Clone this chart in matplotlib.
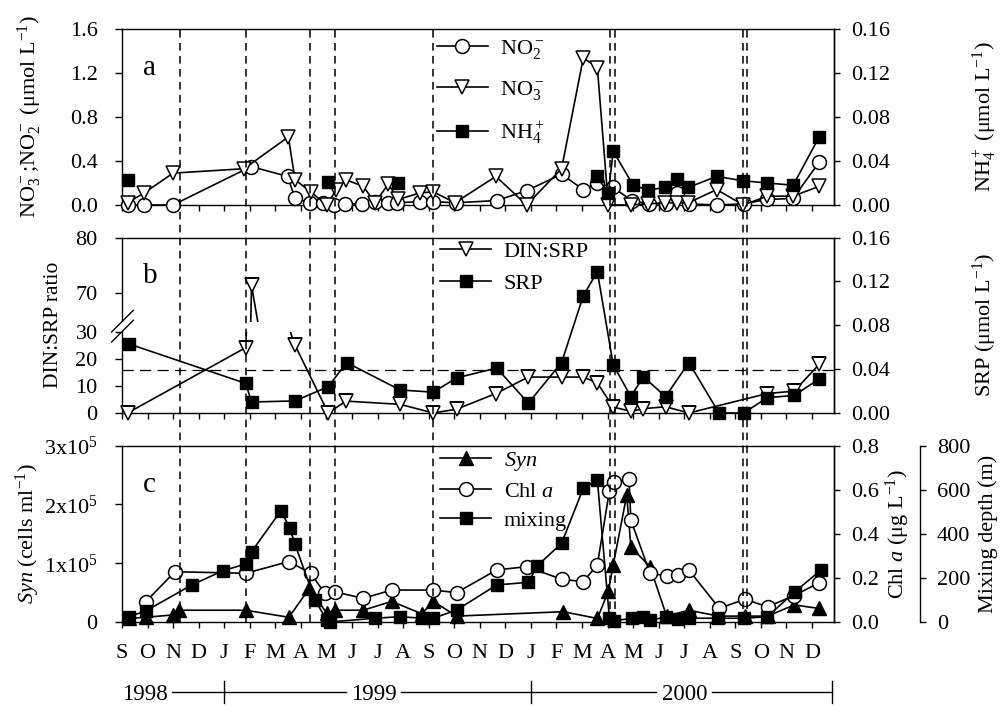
import numpy as np
import matplotlib
matplotlib.use("Agg")
import matplotlib.pyplot as plt
from matplotlib.lines import Line2D
from matplotlib.path import Path
import matplotlib.transforms as mtransforms

plt.rcParams.update({
    "font.family": "serif",
    "font.serif": ["Liberation Serif", "DejaVu Serif"],
    "mathtext.fontset": "custom",
    "mathtext.rm": "Liberation Serif",
    "mathtext.it": "Liberation Serif:italic",
    "mathtext.bf": "Liberation Serif:bold",
    "font.size": 16,
    "axes.linewidth": 1.0,
    "xtick.direction": "out",
    "ytick.direction": "out",
})

# ---------------- data (x = months since 1 Sep 1998) ----------------
month_labels = list("SONDJFMAMJJASONDJFMAMJJASOND")
years = ["1998", "1999", "2000"]
event_months = [2.27, 4.84, 7.36, 8.33, 12.18, 19.09, 19.28, 24.28, 24.44]

# panel a
no2_x = [0.22, 0.87, 2.00, 5.05, 6.48, 6.77, 7.35, 7.85, 8.31, 8.72, 9.41, 9.90, 10.42, 10.75, 11.68, 12.18,
         13.05, 14.66, 15.83, 17.20, 18.05, 18.57, 19.22, 19.94, 20.62, 21.27, 21.70, 22.17, 23.30, 24.33,
         25.22, 26.26, 27.28]
no2_y = [0.00, 0.00, 0.00, 0.35, 0.26, 0.06, 0.02, 0.02, 0.00, 0.01, 0.01, 0.03, 0.02, 0.02, 0.03, 0.03,
         0.02, 0.04, 0.13, 0.28, 0.14, 0.20, 0.16, 0.04, 0.01, 0.01, 0.11, 0.01, 0.00, 0.01,
         0.05, 0.06, 0.39]
no3_x = [0.22, 0.87, 2.00, 4.78, 6.51, 6.77, 7.38, 8.01, 8.39, 8.75, 9.44, 9.90, 10.42, 10.81, 11.66, 12.18,
         13.03, 14.63, 15.83, 17.20, 18.05, 18.60, 19.03, 19.91, 20.59, 21.24, 21.70, 22.16, 23.27, 24.31,
         25.25, 26.26, 27.28]
no3_y = [0.02, 0.11, 0.29, 0.33, 0.62, 0.23, 0.12, 0.00, 0.14, 0.23, 0.17, 0.02, 0.19, 0.05, 0.11, 0.12,
         0.02, 0.26, 0.00, 0.33, 1.34, 1.25, 0.00, 0.00, 0.01, 0.02, 0.02, 0.02, 0.14, 0.00,
         0.08, 0.08, 0.17]
nh4_iso_x = [0.25, 8.07, 10.81]
nh4_iso_y = [0.023, 0.021, 0.020]
nh4_x = [18.57, 19.03, 19.22, 20.00, 20.60, 21.24, 21.70, 22.16, 23.27, 24.31, 25.25, 26.26, 27.28]
nh4_y = [0.026, 0.011, 0.049, 0.018, 0.0135, 0.016, 0.024, 0.016, 0.026, 0.022, 0.020, 0.018, 0.062]

# panel b
srp_x = [0.27, 4.84, 5.07, 6.77, 8.07, 8.79, 10.88, 12.18, 13.09, 14.66, 15.90, 17.20, 18.05, 18.60,
         19.22, 19.91, 20.40, 21.27, 22.18, 23.36, 24.33, 25.25, 26.30, 27.28]
srp_y = [0.063, 0.027, 0.010, 0.011, 0.024, 0.046, 0.021, 0.019, 0.032, 0.041, 0.009, 0.046, 0.107, 0.129,
         0.044, 0.015, 0.033, 0.015, 0.046, 0.000, 0.000, 0.014, 0.016, 0.031]
din_x = [0.22, 4.84, 5.07, 6.77, 8.07, 8.76, 10.88, 12.18, 13.09, 14.63, 15.90, 17.20, 18.05, 18.60,
         19.22, 19.91, 20.40, 21.27, 22.18, 25.25, 26.30, 27.28]
din_y = [0.0, 24.2, 71.3, 25.1, 0.0, 4.4, 3.2, 0.0, 1.4, 7.2, 13.3, 13.3, 13.3, 11.1,
         2.2, 0.6, 1.6, 2.3, 0.0, 7.2, 8.1, 18.0]
redfield = 16

# panel c
syn_x = [0.27, 0.93, 2.00, 2.23, 4.84, 6.53, 7.33, 8.01, 8.33, 9.44, 10.55, 11.73, 12.18, 13.09,
         17.27, 18.60, 19.03, 19.22, 19.75, 19.91, 20.66, 21.31, 22.18, 23.33, 24.37, 25.26, 26.30, 27.28]
syn_y = [0.6e4, 0.8e4, 1.2e4, 2.0e4, 2.0e4, 0.8e4, 5.7e4, 1.5e4, 2.0e4, 2.0e4, 3.5e4, 1.4e4, 3.5e4, 1.0e4,
         1.75e4, 0.6e4, 5.2e4, 9.7e4, 2.16e5, 1.28e5, 9.4e4, 1.0e4, 2.0e4, 1.0e4, 1.0e4, 1.0e4, 2.9e4, 2.3e4]
chl_x = [0.93, 2.07, 4.84, 6.53, 7.38, 7.94, 8.33, 9.44, 10.55, 12.18, 13.09, 14.66, 15.83, 17.20, 18.05,
         18.60, 19.07, 19.26, 19.84, 19.91, 20.66, 21.31, 21.74, 22.18, 23.37, 24.37, 25.26, 26.30, 27.28]
chl_y = [0.092, 0.228, 0.221, 0.274, 0.221, 0.130, 0.137, 0.107, 0.145, 0.145, 0.133, 0.236, 0.251, 0.194,
         0.183, 0.259, 0.594, 0.637, 0.647, 0.463, 0.221, 0.209, 0.213, 0.236, 0.062, 0.103, 0.069, 0.120,
         0.178]
mix_x = [0.27, 0.93, 2.73, 3.96, 4.84, 5.07, 6.22, 6.57, 6.77, 7.55, 8.01, 8.14, 9.90, 10.88, 11.73, 12.18,
         13.09, 14.66, 15.90, 16.25, 17.20, 18.05, 18.60, 19.07, 19.26, 19.94, 20.40, 20.66, 21.27, 21.74,
         22.18, 23.33, 24.33, 25.25, 26.33, 27.35]
mix_y = [24, 50, 168, 233, 263, 319, 505, 425, 352, 100, 9, 0, 17, 24, 17, 17,
         54, 168, 180, 255, 357, 607, 644, 20, 5, 17, 21, 9, 21, 12,
         17, 17, 17, 24, 137, 236]

# ---------------- styles ----------------
LW = 1.2
MS = 10
MSQ = 8.5
sty_circ = dict(color="k", marker="o", mfc="white", mec="k", ms=MS, lw=LW, mew=1.1, clip_on=False)
sty_tri = dict(color="k", marker="v", mfc="white", mec="k", ms=MS, lw=LW, mew=1.1, clip_on=False)
sty_sq = dict(color="k", marker="s", mfc="k", mec="k", ms=MSQ, lw=LW, mew=1.0, clip_on=False)
sty_up = dict(color="k", marker="^", mfc="k", mec="k", ms=MS, lw=LW, mew=1.0, clip_on=False)

XMAX = 27.86
FS_TICK = 16
FS_LAB = 16

fig = plt.figure(figsize=(10.04, 7.08), dpi=100)
L, W = 0.1215, 0.7092
rect_a = [L, 0.7105, W, 0.2482]
rect_b = [L, 0.4167, W, 0.2477]
rect_c = [L, 0.1215, W, 0.2490]
ax_a = fig.add_axes(rect_a)
ax_b = fig.add_axes(rect_b)
ax_c = fig.add_axes(rect_c)


def base_x(ax, labels=False):
    ax.set_xlim(0, XMAX)
    ax.set_xticks(np.arange(len(month_labels)))
    if labels:
        ax.set_xticklabels(month_labels, fontsize=16)
    else:
        ax.set_xticklabels([])
    ax.tick_params(axis="x", length=4, width=1, pad=12, top=False)
    ax.tick_params(axis="y", length=5, width=1, pad=12.5, labelsize=FS_TICK)


def right_ticks(ax):
    ax.tick_params(axis="y", length=4, width=1, pad=8, labelsize=FS_TICK)
    for s in ["top", "left", "bottom"]:
        ax.spines[s].set_visible(False)


def legend(ax, handles, labels, x, y, spacing):
    return ax.legend(handles, labels, loc="upper left", bbox_to_anchor=(x, y), frameon=False,
                     handlelength=2.3, handletextpad=0.55, labelspacing=spacing, borderpad=0,
                     borderaxespad=0, fontsize=16)


# ---------------- panel a ----------------
base_x(ax_a)
ax_a.plot(no2_x, no2_y, **sty_circ, zorder=3)
ax_a.plot(no3_x, no3_y, **sty_tri, zorder=3)
ax_a.set_ylim(0, 1.6)
ax_a.set_yticks([0, 0.4, 0.8, 1.2, 1.6])
ax_a.set_yticklabels(["0.0", "0.4", "0.8", "1.2", "1.6"])
ax_a.set_ylabel(r"NO$_3^-$;NO$_2^-$ ($\mathrm{\mu}$mol L$^{-1}$)", fontsize=FS_LAB)
ax_a.yaxis.set_label_coords(-0.11, 0.5)
ax_a2 = ax_a.twinx()
ax_a2.plot(nh4_x, nh4_y, **sty_sq, zorder=4)
ax_a2.plot(nh4_iso_x, nh4_iso_y, ls="none", **{k: v for k, v in sty_sq.items() if k != "lw"})
ax_a2.set_ylim(0, 0.16)
ax_a2.set_yticks([0, 0.04, 0.08, 0.12, 0.16])
ax_a2.set_yticklabels(["0.00", "0.04", "0.08", "0.12", "0.16"])
right_ticks(ax_a2)
ax_a2.set_ylabel(r"NH$_4^+$ ($\mathrm{\mu}$mol L$^{-1}$)", fontsize=FS_LAB)
ax_a2.yaxis.set_label_coords(1.192, 0.5)
ax_a.text(0.03, 0.74, "a", transform=ax_a.transAxes, fontsize=21)
h_a = [Line2D([], [], **sty_circ), Line2D([], [], **sty_tri), Line2D([], [], **sty_sq)]
legend(ax_a2, h_a, [r"NO$_2^-$", r"NO$_3^-$", r"NH$_4^+$"], 0.442, 0.95, 0.8)

# ---------------- panel b (broken DIN:SRP axis) ----------------
H_B = 175.4              # panel height in px
LOW_PX_PER_UNIT = 2.7     # 0..30 part
UP_PX_PER_UNIT = 5.5      # 70..80 part
UP_BASE_PX = 120.4        # px position of 70
GAP_LO, GAP_HI = 81.3 / H_B, 91.3 / H_B

base_x(ax_b)
ax_b.set_ylim(0, H_B / LOW_PX_PER_UNIT)
ax_b.set_yticks([0, 10, 20, 30])
ax_b.set_ylabel("DIN:SRP ratio", fontsize=15.5)
ax_b.yaxis.set_label_coords(-0.083, 0.5)

ax_bu = fig.add_axes(rect_b)
ax_bu.set_xlim(0, XMAX)
ax_bu.set_ylim(70 - UP_BASE_PX / UP_PX_PER_UNIT, 80)
ax_bu.set_yticks([70, 80])
ax_bu.patch.set_visible(False)
for s in ax_bu.spines.values():
    s.set_visible(False)
ax_bu.tick_params(axis="x", bottom=False, labelbottom=False)
ax_bu.tick_params(axis="y", length=5, width=1, pad=12.5, labelsize=FS_TICK)


def region(y0, y1):
    v = [(-0.1, y0), (1.1, y0), (1.1, y1), (-0.1, y1), (0, 0)]
    c = [Path.MOVETO, Path.LINETO, Path.LINETO, Path.LINETO, Path.CLOSEPOLY]
    return Path(v, c)


din_lo, = ax_b.plot(din_x, din_y, **{k: v for k, v in sty_tri.items() if k != "clip_on"}, zorder=3)
din_lo.set_clip_path(region(-0.3, GAP_LO), ax_b.transAxes)
din_lo.set_clip_box(None)
din_up, = ax_bu.plot(din_x, din_y, **{k: v for k, v in sty_tri.items() if k != "clip_on"}, zorder=3)
din_up.set_clip_path(region(GAP_HI, 1.3), ax_bu.transAxes)
din_up.set_clip_box(None)

ax_b.axhline(redfield, color="k", lw=0.9, ls=(0, (9, 5)), zorder=2)
# axis break marks
ax_b.plot([0, 0], [GAP_LO + 0.003, GAP_HI - 0.003], transform=ax_b.transAxes, color="white", lw=3,
          solid_capstyle="butt", clip_on=False, zorder=10)
for y0, y1 in [(0.462, 0.5855), (0.405, 0.5285)]:
    ax_b.plot([-0.0145, 0.0159], [y0, y1], transform=ax_b.transAxes, color="k", lw=1.0,
              clip_on=False, zorder=11)

ax_b2 = ax_b.twinx()
ax_b2.plot(srp_x, srp_y, **sty_sq, zorder=4)
ax_b2.set_ylim(0, 0.16)
ax_b2.set_yticks([0, 0.04, 0.08, 0.12, 0.16])
ax_b2.set_yticklabels(["0.00", "0.04", "0.08", "0.12", "0.16"])
right_ticks(ax_b2)
ax_b2.set_ylabel(r"SRP ($\mathrm{\mu}$mol L$^{-1}$)", fontsize=FS_LAB)
ax_b2.yaxis.set_label_coords(1.192, 0.5)
ax_b.text(0.03, 0.74, "b", transform=ax_b.transAxes, fontsize=21)
h_b = [Line2D([], [], **sty_tri), Line2D([], [], **sty_sq)]
legend(ax_b2, h_b, ["DIN:SRP", "SRP"], 0.447, 0.978, 0.5)

# ---------------- panel c ----------------
base_x(ax_c, labels=True)
ax_c.plot(syn_x, syn_y, **sty_up, zorder=3)
ax_c.set_ylim(0, 3e5)
ax_c.set_yticks([0, 1e5, 2e5, 3e5])
ax_c.set_yticklabels(["0", r"1x10$^5$", r"2x10$^5$", r"3x10$^5$"])
ax_c.set_ylabel(r"$Syn$ (cells ml$^{-1}$)", fontsize=FS_LAB)
ax_c.yaxis.set_label_coords(-0.112, 0.5)
ax_c2 = ax_c.twinx()
ax_c2.plot(chl_x, chl_y, **sty_circ, zorder=3)
ax_c2.set_ylim(0, 0.8)
ax_c2.set_yticks([0, 0.2, 0.4, 0.6, 0.8])
ax_c2.set_yticklabels(["0.0", "0.2", "0.4", "0.6", "0.8"])
right_ticks(ax_c2)
ax_c2.set_ylabel(r"Chl $a$ ($\mathrm{\mu}$g L$^{-1}$)", fontsize=FS_LAB)
ax_c2.yaxis.set_label_coords(1.07, 0.5)
ax_c3 = ax_c.twinx()
ax_c3.spines["right"].set_position(("axes", 1.121))
right_ticks(ax_c3)
ax_c3.plot(mix_x, mix_y, **sty_sq, zorder=4)
ax_c3.set_ylim(0, 800)
ax_c3.set_yticks([0, 200, 400, 600, 800])
ax_c3.set_ylabel("Mixing depth (m)", fontsize=FS_LAB)
ax_c3.yaxis.set_label_coords(1.203, 0.5)
ax_c.text(0.03, 0.74, "c", transform=ax_c.transAxes, fontsize=21)
h_c = [Line2D([], [], **sty_up), Line2D([], [], **sty_circ), Line2D([], [], **sty_sq)]
legend(ax_c3, h_c, [r"$Syn$", r"Chl $a$", "mixing"], 0.447, 0.975, 0.37)

# ---------------- year row ----------------
blend_c = mtransforms.blended_transform_factory(ax_c.transData, ax_c.transAxes)
YR = -0.397
for lbl, xc in zip(years, [0.9, 9.84, 22.03]):
    ax_c.text(xc, YR - 0.015, lbl, transform=blend_c, ha="center", va="center", fontsize=16.5)
for x0, x1 in [(1.96, 8.76), (10.9, 20.9), (23.1, 27.78)]:
    ax_c.plot([x0, x1], [YR, YR], transform=blend_c, color="k", lw=1.0, clip_on=False)
for xt in [4.0, 16.0, 27.78]:
    ax_c.plot([xt, xt], [YR + 0.06, YR - 0.06], transform=blend_c, color="k", lw=1.0, clip_on=False)

# ---------------- event lines across all panels ----------------
blend_f = mtransforms.blended_transform_factory(ax_c.transData, fig.transFigure)
for m in event_months:
    fig.add_artist(Line2D([m, m], [0.1215, 0.9586], transform=blend_f, color="k", lw=1.1,
                          ls=(0, (5, 3.5)), zorder=20))

fig.savefig("out.png", dpi=100)
